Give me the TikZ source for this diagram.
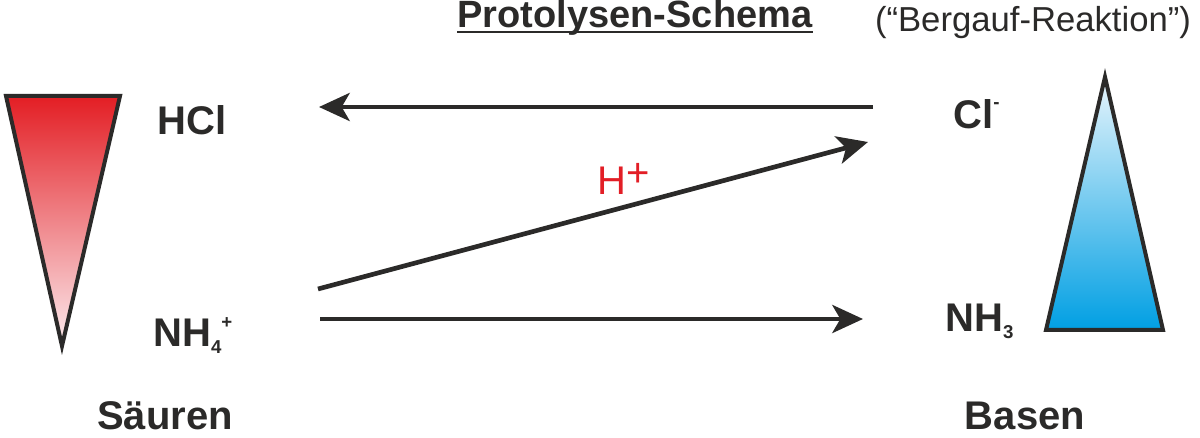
\documentclass[tikz,border=0pt]{standalone}
\usepackage{fontspec}
\usepackage{tikz}
\usetikzlibrary{arrows.meta}
\setmainfont{Liberation Sans}
\definecolor{ink}{RGB}{43,42,41}
\definecolor{hplus}{RGB}{226,30,38}
\definecolor{acidtop}{RGB}{227,30,36}
\definecolor{acidbot}{RGB}{252,236,239}
\definecolor{basetop}{RGB}{232,245,252}
\definecolor{basebot}{RGB}{0,159,227}
\newcommand{\chlow}[1]{\raisebox{-5pt}{\fontsize{14}{14}\selectfont #1}}
\newcommand{\chhigh}[2]{\raisebox{#1}{\fontsize{14}{14}\selectfont #2}}

\begin{document}
\begin{tikzpicture}[x=0.75pt,y=0.75pt,yscale=-1,xscale=1,
    lbl/.style={inner sep=0.75pt, text=ink, font=\fontsize{30}{36}\selectfont\bfseries},
    arr/.style={-{Stealth[length=23pt,width=21pt,inset=6pt]}, line width=3.5pt, draw=ink},
    wedge/.style={line width=3pt, draw=ink, line join=miter}]
            %set diagram size 1200 x 438
            \useasboundingbox (0,0) rectangle (1200,438);

            %Shape: Triangle [acids]
            \draw [wedge, top color=acidtop, bottom color=acidbot] (6,96) -- (120,96) -- (62,346) -- cycle ;
            %Shape: Triangle [bases]
            \draw [wedge, top color=basetop, bottom color=basebot] (1105,77) -- (1163,330) -- (1046,330) -- cycle ;

            % Text Node
            \draw (635,28) node (ttl) [anchor=base] [inner sep=0.75pt] [text=ink, font=\fontsize{28.5}{34}\selectfont\bfseries] {Protolysen-Schema};
            \path (ttl.base west) ++(1,4) coordinate (ulL);
            \path (ttl.base east) ++(-1,4) coordinate (ulR);
            \draw [line width=1.5pt, draw=ink] (ulL) -- (ulR);
            % Text Node
            \draw (1033,32) node (hint) [anchor=base] [inner sep=0.75pt] [text=ink, font=\fontsize{26}{31}\selectfont] {(“Bergauf-Reaktion”)};
            % Text Node
            \draw (156,135) node (hcl) [anchor=base west] [lbl] {HCl};
            % Text Node
            \draw (152,347) node (nhfour) [anchor=base west] [lbl] {NH\chlow{4}\chhigh{13.5pt}{+}};
            % Text Node
            \draw (952,129) node (cl) [anchor=base west] [lbl] {Cl\chhigh{15pt}{-}};
            % Text Node
            \draw (944,332) node (nhthree) [anchor=base west] [lbl] {NH\chlow{3}};
            % Text Node
            \draw (165,429) node (acids) [anchor=base] [lbl] {Säuren};
            % Text Node
            \draw (1025,429) node (bases) [anchor=base] [lbl] {Basen};
            % Text Node
            \draw (597,195) node (proton) [anchor=base west] [inner sep=0pt] [text=hplus, font=\fontsize{30}{36}\selectfont] {H\raisebox{6pt}{+}};

            %Arrows
            \coordinate (hclR) at (873,107);
            \coordinate (hclL) at (319,107);
            \coordinate (nhfourR) at (318,289);
            \coordinate (clL) at (868,142);
            \coordinate (nhfourS) at (320,319);
            \coordinate (nhthreeL) at (863,319);
            \draw [arr] (hclR) -- (hclL);
            \draw [arr] (nhfourR) -- (clL);
            \draw [arr] (nhfourS) -- (nhthreeL);

\end{tikzpicture}
\end{document}
